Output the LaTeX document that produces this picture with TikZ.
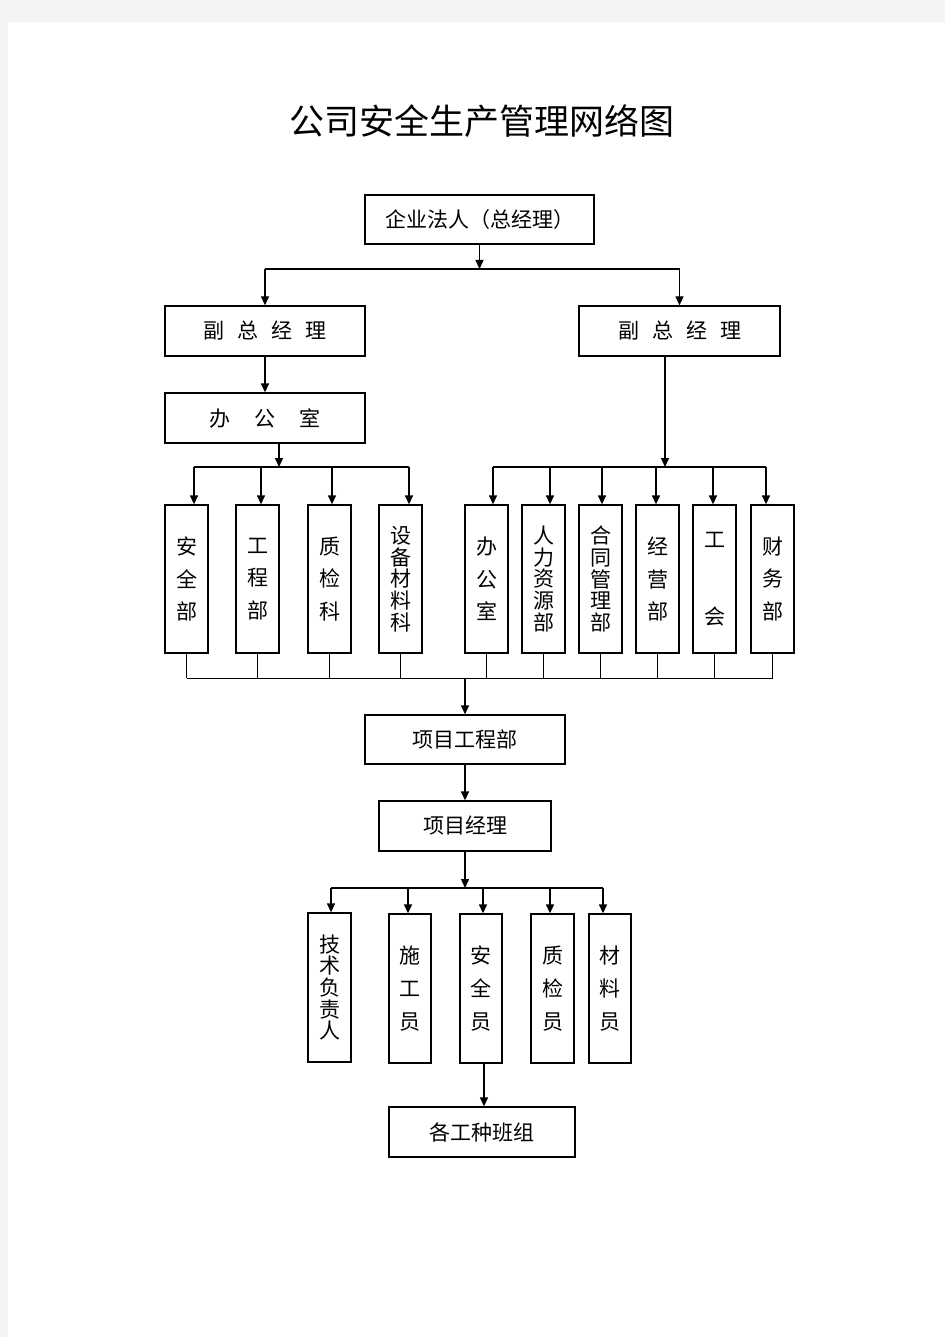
\documentclass[tikz,border=0pt]{standalone}
\usepackage{fontspec}
\setmainfont{Noto Sans CJK SC}
\usetikzlibrary{arrows.meta}
\definecolor{pagegray}{HTML}{F4F4F4}
\tikzset{
  box/.style={draw, line width=1.3pt, fill=white, inner sep=0pt, font=\fontsize{21}{24}\selectfont},
  vbox3/.style={box, minimum width=43pt, minimum height=148pt, align=center, font=\fontsize{21}{32.5}\selectfont},
  vbox5/.style={box, minimum width=43pt, minimum height=148pt, align=center, font=\fontsize{21}{21.7}\selectfont},
  arr/.style={line width=1.3pt, -{Triangle[length=9pt,width=8pt]}},
  ln/.style={line width=1.3pt},
  thinln/.style={line width=1pt},
}
\begin{document}
\begin{tikzpicture}[x=1pt,y=-1pt]
\useasboundingbox (0,0) rectangle (945,1337);
\fill[pagegray] (0,0) rectangle (945,1337);
\fill[white] (8,22) rectangle (945,1337);

\node[font=\fontsize{35}{40}\selectfont] (title) at (481.5,121) {公司安全生产管理网络图};

% top levels
\node[box, minimum width=229pt, minimum height=49pt] (top) at (479.5,219.5) {企业法人（总经理）};
\node[box, minimum width=200pt, minimum height=50pt] (vp1) at (265,331) {副\hspace{13pt}总\hspace{13pt}经\hspace{13pt}理};
\node[box, minimum width=201pt, minimum height=50pt] (vp2) at (679.5,331) {副\hspace{13pt}总\hspace{13pt}经\hspace{13pt}理};
\node[box, minimum width=200pt, minimum height=50pt] (office) at (265,418) {办\hspace{24pt}公\hspace{24pt}室};

% left departments
\node[vbox3] (a1) at (186.5,579) {安\\全\\部};
\node[vbox3] (a2) at (257.5,579) {工\\程\\部};
\node[vbox3] (a3) at (329.5,579) {质\\检\\科};
\node[vbox5] (a4) at (400.5,579) {设\\备\\材\\料\\科};

% right departments
\node[vbox3] (b1) at (486.5,579) {办\\公\\室};
\node[vbox5] (b2) at (543.5,579) {人\\力\\资\\源\\部};
\node[vbox5] (b3) at (600.5,579) {合\\同\\管\\理\\部};
\node[vbox3] (b4) at (657.5,579) {经\\营\\部};
\node[vbox3] (b5) at (714.5,579) {工\\[44.5pt]会};
\node[vbox3] (b6) at (772.5,579) {财\\务\\部};

% project level
\node[box, minimum width=200pt, minimum height=49pt] (pd) at (465,739.5) {项目工程部};
\node[box, minimum width=172pt, minimum height=50pt] (pm) at (465,826) {项目经理};

\node[box, minimum width=43pt, minimum height=149pt, align=center, font=\fontsize{21}{21.7}\selectfont] (c1) at (329.5,987.5) {技\\术\\负\\责\\人};
\node[box, minimum width=42pt, minimum height=149pt, align=center, font=\fontsize{21}{33}\selectfont] (c2) at (410,988.5) {施\\工\\员};
\node[box, minimum width=42pt, minimum height=149pt, align=center, font=\fontsize{21}{33}\selectfont] (c3) at (481,988.5) {安\\全\\员};
\node[box, minimum width=43pt, minimum height=149pt, align=center, font=\fontsize{21}{33}\selectfont] (c4) at (552.5,988.5) {质\\检\\员};
\node[box, minimum width=42pt, minimum height=149pt, align=center, font=\fontsize{21}{33}\selectfont] (c5) at (610,988.5) {材\\料\\员};

\node[box, minimum width=186pt, minimum height=50pt] (team) at (482,1132) {各工种班组};

% bus coordinates
\coordinate (busT) at (479.5,269);
\coordinate (busL) at (279,467);
\coordinate (busR) at (665,467);
\coordinate (busB) at (465,678);
\coordinate (busC) at (465,888);

% top connectors
\draw[arr] (top.south) -- (busT);
\draw[ln] (vp1.north |- busT) -- (vp2.north |- busT);
\draw[arr] (vp1.north |- busT) -- (vp1.north);
\draw[arr] (vp2.north |- busT) -- (vp2.north);
\draw[arr] (vp1.south) -- (office.north);

% left bus
\coordinate (l1) at (194,467);
\coordinate (l2) at (261,467);
\coordinate (l3) at (332,467);
\coordinate (l4) at (409,467);
\draw[arr] (office.south -| busL) -- (busL);
\draw[ln] (l1) -- (l4);
\draw[arr] (l1) -- (l1 |- a1.north);
\draw[arr] (l2) -- (l2 |- a2.north);
\draw[arr] (l3) -- (l3 |- a3.north);
\draw[arr] (l4) -- (l4 |- a4.north);

% right bus
\coordinate (r1) at (493,467);
\coordinate (r2) at (550,467);
\coordinate (r3) at (602,467);
\coordinate (r4) at (656,467);
\coordinate (r5) at (713,467);
\coordinate (r6) at (766,467);
\draw[arr] (vp2.south -| busR) -- (busR);
\draw[ln] (r1) -- (r6);
\draw[arr] (r1) -- (r1 |- b1.north);
\draw[arr] (r2) -- (r2 |- b2.north);
\draw[arr] (r3) -- (r3 |- b3.north);
\draw[arr] (r4) -- (r4 |- b4.north);
\draw[arr] (r5) -- (r5 |- b5.north);
\draw[arr] (r6) -- (r6 |- b6.north);

% bottom collecting bus
\foreach \n in {a1,a2,a3,a4,b1,b2,b3,b4,b5,b6}{
  \draw[thinln] (\n.south) -- (\n.south |- busB);
}
\draw[thinln] (a1.south |- busB) -- (b6.south |- busB);
\draw[arr] (busB) -- (pd.north);

% project connectors
\draw[arr] (pd.south) -- (pm.north);
\draw[arr] (pm.south) -- (busC);
\coordinate (k1) at (331,888);
\coordinate (k2) at (408,888);
\coordinate (k3) at (483,888);
\coordinate (k4) at (550,888);
\coordinate (k5) at (603,888);
\draw[ln] (k1) -- (k5);
\draw[arr] (k1) -- (k1 |- c1.north);
\draw[arr] (k2) -- (k2 |- c2.north);
\draw[arr] (k3) -- (k3 |- c3.north);
\draw[arr] (k4) -- (k4 |- c4.north);
\draw[arr] (k5) -- (k5 |- c5.north);
\draw[arr] ([xshift=3pt]c3.south) -- ([xshift=3pt]c3.south |- team.north);
\end{tikzpicture}
\end{document}
